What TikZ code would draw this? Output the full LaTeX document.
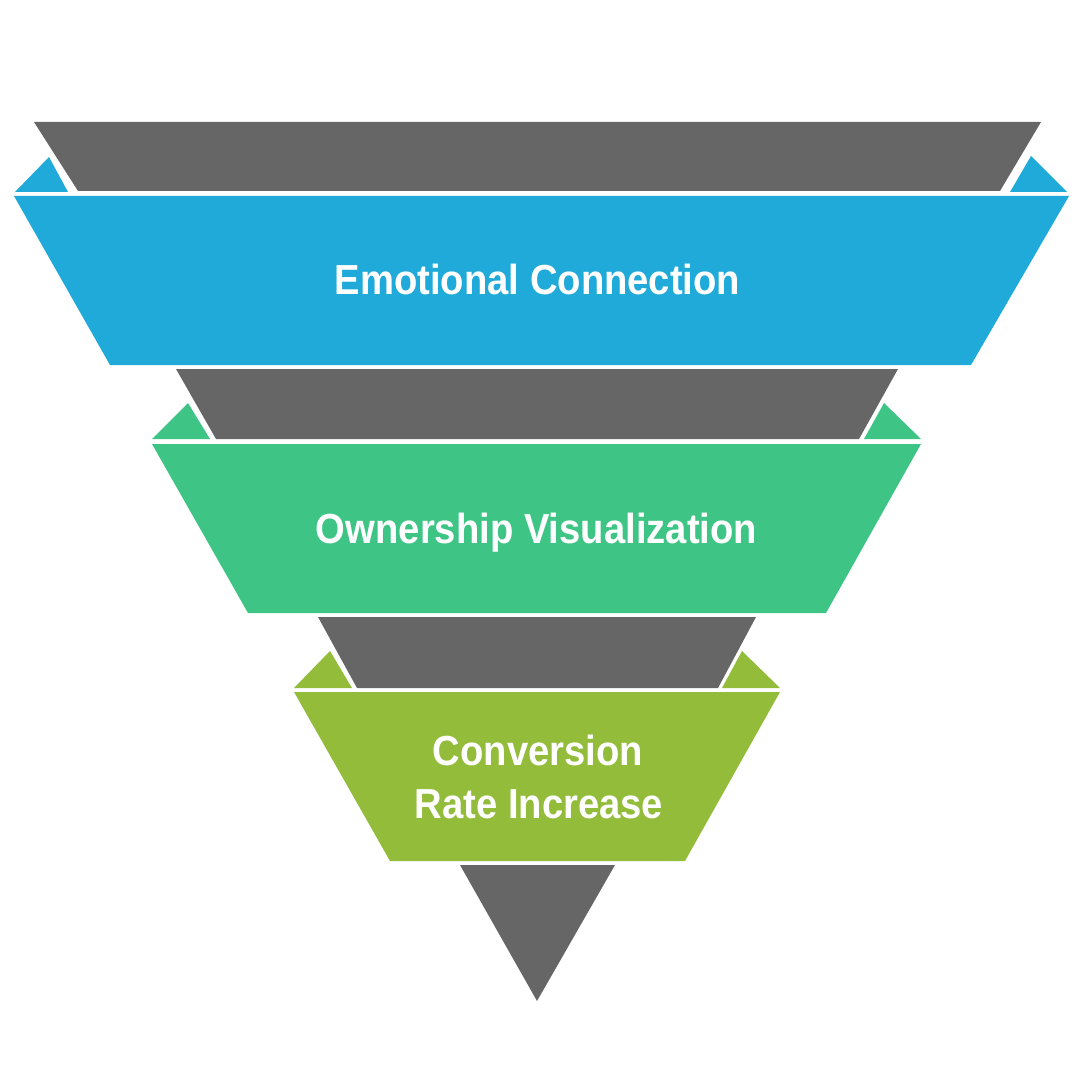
\documentclass[tikz,border=0pt]{standalone}
\usepackage{fontspec}
\setmainfont{Liberation Sans}[FakeStretch=0.91]
\definecolor{fblue}{RGB}{31,170,217}
\definecolor{fgreen}{RGB}{62,197,133}
\definecolor{fyg}{RGB}{146,188,58}
\definecolor{fgray}{RGB}{102,102,102}
\begin{document}
\begin{tikzpicture}[x=0.75pt,y=-0.75pt,
  lbl/.style={text=white,font=\fontsize{31.5}{36}\selectfont\bfseries,anchor=base,inner sep=0pt}]
\useasboundingbox (0,0) rectangle (1080,1080);
% level 1
\fill[fgray] (34,122) -- (1041,122) -- (1000,191) -- (78,191) -- cycle;
\fill[fblue] (15,192) -- (49,157) -- (68,192) -- cycle;
\fill[fblue] (1010,192) -- (1031,156) -- (1067,192) -- cycle;
\fill[fblue] (14,196) -- (1069,196) -- (971,365) -- (110,365) -- cycle;
% level 2
\fill[fgray] (176,369) -- (898,369) -- (859,439) -- (216,439) -- cycle;
\fill[fgreen] (152,439) -- (188,403) -- (210,439) -- cycle;
\fill[fgreen] (864,439) -- (884,403) -- (921,439) -- cycle;
\fill[fgreen] (152,444) -- (921,444) -- (826,613) -- (248,613) -- cycle;
% level 3
\fill[fgray] (318,617) -- (756,617) -- (718,688) -- (357,688) -- cycle;
\fill[fyg] (294,688) -- (330,651) -- (352,688) -- cycle;
\fill[fyg] (722,688) -- (742,651) -- (780,688) -- cycle;
\fill[fyg] (294,692) -- (780,692) -- (685,861) -- (390,861) -- cycle;
% tip
\fill[fgray] (460,865) -- (615,865) -- (537,1001) -- cycle;
% labels
\node[lbl] (t1) at (537.5,295) {Emotional Connection};
\node[lbl] (t2) at (536.5,543) {Ownership Visualization};
\node[lbl] (t3a) at (538,765) {Conversion};
\node[lbl] (t3b) at (539,818) {Rate Increase};
\end{tikzpicture}
\end{document}
